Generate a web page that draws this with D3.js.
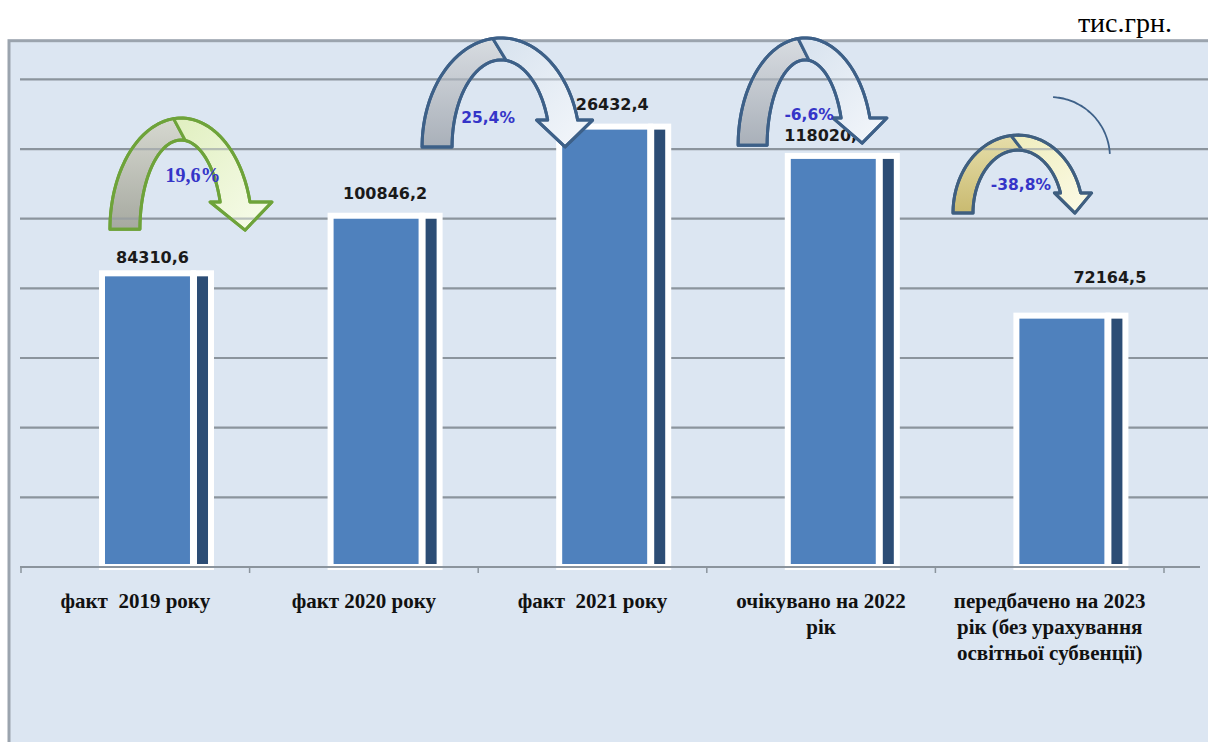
<!DOCTYPE html>
<html><head><meta charset="utf-8">
<script src="https://cdn.jsdelivr.net/npm/d3@7"></script>
<style>html,body{margin:0;padding:0;background:#fff;} svg{display:block}</style>
</head><body><div id="chart"></div>
<script>
// ---------------- data ----------------
const categories = [
  "факт  2019 року",
  "факт 2020 року",
  "факт  2021 року",
  "очікувано на 2022\nрік",
  "передбачено на 2023\nрік (без урахування\nосвітньої субвенції)"
];
const factValues   = [84310.6, 100846.2, 126432.4, 118020.0, 72164.5];
const shadowValues = [84310.6, 100846.2, 126432.4, 118020.0, 72164.5];
const gridTicks    = [20000, 40000, 60000, 80000, 100000, 120000, 140000];
const changeLabels = ["19,6%", "25,4%", "-6,6%", "-38,8%"];
const unitLabel    = "тис.грн.";

// ---------------- layout ----------------
const W = 1208, H = 742;
const SERIF = "'Liberation Serif', 'Times New Roman', 'DejaVu Serif', serif";
const SANS = "'DejaVu Sans', Verdana, sans-serif";
const plot = {left: 21, right: 1164, top: 40.7, bottom: 567};
const yMax = 151100;
const labelDx = [-4, 0, -7, -16, 39];
const labelDy = [-10, -17, -17, -15, -33];
const mainBar = {off: 0.3543, w: 0.398};
const darkBar = {off: 0.7568, w: 0.0744};

const svg = d3.select("#chart").append("svg").attr("width", W).attr("height", H);
const x = d3.scaleBand().domain(d3.range(categories.length)).range([plot.left, plot.right]).padding(0);
const bw = x.bandwidth();
const y = d3.scaleLinear().domain([0, yMax]).range([plot.bottom, plot.top]);
const xu = u => plot.left + u * bw;

const defs = svg.append("defs");

// frame
svg.append("rect").attr("x", 9).attr("y", plot.top).attr("width", W).attr("height", H)
  .attr("fill", "#DCE6F2").attr("stroke", "#9BA4AE").attr("stroke-width", 3);

// unit label
svg.append("text").attr("x", 1172).attr("y", 32).attr("text-anchor", "end")
  .style("font-family", SERIF).attr("font-size", 28)
  .attr("fill", "#000").text(unitLabel);

// gridlines
const gridG = svg.append("g");
function drawGrid(g, opacity) {
  g.selectAll("line.grid").data(gridTicks).join("line").attr("class", "grid")
    .attr("x1", 20).attr("x2", W).attr("y1", d => y(d)).attr("y2", d => y(d))
    .attr("stroke", "#8B949D").attr("stroke-width", 2.2).attr("opacity", opacity);
}
drawGrid(gridG, 1);

// bars
const barG = svg.append("g");
barG.selectAll("rect.main").data(factValues).join("rect").attr("class", "main")
  .attr("x", (d, i) => x(i) + mainBar.off * bw).attr("width", mainBar.w * bw)
  .attr("y", d => y(d)).attr("height", d => y(0) - y(d))
  .attr("fill", "#4F81BD").attr("stroke", "#fff").attr("stroke-width", 6);
barG.selectAll("rect.dark").data(shadowValues).join("rect").attr("class", "dark")
  .attr("x", (d, i) => x(i) + darkBar.off * bw).attr("width", darkBar.w * bw)
  .attr("y", d => y(d)).attr("height", d => y(0) - y(d))
  .attr("fill", "#2C4D75").attr("stroke", "#fff").attr("stroke-width", 6);

// axis
const axisG = svg.append("g");
axisG.append("line").attr("x1", 20).attr("x2", 1200).attr("y1", y(0)).attr("y2", y(0))
  .attr("stroke", "#8B949D").attr("stroke-width", 2.2);
axisG.selectAll("line.tick").data(d3.range(categories.length + 1)).join("line").attr("class", "tick")
  .attr("x1", i => plot.left + i * bw).attr("x2", i => plot.left + i * bw)
  .attr("y1", y(0)).attr("y2", y(0) + 6).attr("stroke", "#8B949D").attr("stroke-width", 1.5);

// category labels
const catG = svg.append("g");
categories.forEach((c, i) => {
  const t = catG.append("text").attr("text-anchor", "middle")
    .style("font-family", SERIF).attr("font-weight", "bold")
    .attr("font-size", 21).attr("fill", "#111").style("white-space", "pre");
  c.split("\n").forEach((line, k) => {
    t.append("tspan").attr("x", x(i) + bw / 2).attr("y", 608 + k * 26).text(line);
  });
});

// value labels
const fmt = v => d3.format(".1f")(v).replace(".", ",");
svg.append("g").selectAll("text").data(factValues).join("text")
  .attr("x", (d, i) => x(i) + (mainBar.off * bw + (darkBar.off + darkBar.w) * bw) / 2 + labelDx[i])
  .attr("y", (d, i) => y(d) + labelDy[i])
  .attr("text-anchor", "middle").style("font-family", SANS)
  .attr("font-weight", "bold").attr("font-size", 16).attr("fill", "#1A1A1A").text(fmt);

// ---------------- curved change arrows ----------------
const themes = {
  green:  {stroke: "#6EA33A", back: ["#A6A9A0", "#D6D8D0"], front: ["#E0EFBF", "#F8FCEC"]},
  blue:   {stroke: "#3D6088", back: ["#A9B0B9", "#D8DCE1"], front: ["#D7E2EE", "#F4F7FB"]},
  yellow: {stroke: "#3F5F80", back: ["#C9BA70", "#E6DEAA"], front: ["#EFEDBC", "#FCFBE8"]}
};
const arrowLayout = [
  {u: 0.700, rx: 0.311,  foot: 97000,  top: 128900, head: 104800, tip: 96700,  t: 30, tv: 22, tipDx: 64, extL: 10, extR: 22, lx: 12, ly: -47, theme: "green",  serif: true},
  {u: 2.100, rx: 0.3456, foot: 120600, top: 151900, head: 128300, tip: 120600, t: 30, tv: 22, tipDx: 64, extL: 11, extR: 15, lx: -13, ly: -24, theme: "blue"},
  {u: 3.430, rx: 0.293,  foot: 121100, top: 151900, head: 128900, tip: 121700, t: 29, tv: 22, tipDx: 57, extL: 8,  extR: 17, lx: 4, ly: -25, theme: "blue"},
  {u: 4.361, rx: 0.284,  foot: 101600, top: 124000, head: 107400, tip: 101600, t: 20, tv: 15, tipDx: 57, extL: 6,  extR: 11, lx: 3, ly: -23, theme: "yellow"}
];
Object.entries(themes).forEach(([k, th]) => {
  const gb = defs.append("linearGradient").attr("id", "back-" + k).attr("x1", 0).attr("y1", 1).attr("x2", 0).attr("y2", 0);
  gb.append("stop").attr("offset", 0).attr("stop-color", th.back[0]);
  gb.append("stop").attr("offset", 1).attr("stop-color", th.back[1]);
  const gf = defs.append("linearGradient").attr("id", "front-" + k).attr("x1", 0).attr("y1", 0).attr("x2", 1).attr("y2", 1);
  gf.append("stop").attr("offset", 0).attr("stop-color", th.front[0]);
  gf.append("stop").attr("offset", 1).attr("stop-color", th.front[1]);
});

const rad = a => a * Math.PI / 180;
function arrowGeom(a) {
  const cx = xu(a.u), fy = y(a.foot), hy = y(a.head);
  const rx = a.rx * bw, ry = fy - y(a.top);
  const rxi = rx - a.t, ryi = ry - a.tv;
  const P = (r1, r2, phi) => [cx + r1 * Math.cos(phi), fy - r2 * Math.sin(phi)];
  const arc = (r1, r2, p0, p1, n = 40) => d3.range(n + 1).map(k => P(r1, r2, p0 + (p1 - p0) * k / n));
  const eO = Math.asin((fy - hy) / ry), eI = Math.asin((fy - hy) / ryi);
  const sO = rad(96), sI = rad(84);
  const oEnd = P(rx, ry, eO), iEnd = P(rxi, ryi, eI);
  const head = [[oEnd[0] + a.extR, hy], [cx + a.tipDx, y(a.tip)], [iEnd[0] - a.extL, hy]];
  const back = arc(rx, ry, Math.PI, sO).concat(arc(rxi, ryi, sI, Math.PI));
  const front = arc(rx, ry, sO, eO).concat(head, arc(rxi, ryi, eI, sI));
  const full = arc(rx, ry, Math.PI, eO).concat(head, arc(rxi, ryi, eI, Math.PI));
  return {cx, fy, back, front, full};
}
const line = d3.line().curve(d3.curveLinear);
const clip = defs.append("clipPath").attr("id", "arrowClip");
const arrowG = svg.append("g");
arrowLayout.forEach(a => {
  const g = arrowGeom(a), th = themes[a.theme];
  clip.append("path").attr("d", line(g.full) + "Z");
  arrowG.append("path").attr("d", line(g.back) + "Z").attr("fill", `url(#back-${a.theme})`)
    .attr("stroke", th.stroke).attr("stroke-width", 3).attr("stroke-linejoin", "round");
  arrowG.append("path").attr("d", line(g.front) + "Z").attr("fill", `url(#front-${a.theme})`)
    .attr("stroke", th.stroke).attr("stroke-width", 3).attr("stroke-linejoin", "round");
});
// gridlines faintly visible through the arrows
const overG = svg.append("g").attr("clip-path", "url(#arrowClip)");
drawGrid(overG, 0.55);
// outlines on top
const outlineG = svg.append("g");
arrowLayout.forEach(a => {
  const g = arrowGeom(a), th = themes[a.theme];
  outlineG.append("path").attr("d", line(g.full) + "Z").attr("fill", "none")
    .attr("stroke", th.stroke).attr("stroke-width", 3).attr("stroke-linejoin", "round");
});

// thin decorative arc
const arcLayout = {u: 4.501, cy: 117700, r: 0.2625, ry: 17225, a0: 87, a1: 3};
{
  const cx = xu(arcLayout.u), cy = y(arcLayout.cy), r = arcLayout.r * bw, ryp = y(0) - y(arcLayout.ry);
  const pts = d3.range(31).map(k => {
    const p = rad(arcLayout.a0 + (arcLayout.a1 - arcLayout.a0) * k / 30);
    return [cx + r * Math.cos(p), cy - ryp * Math.sin(p)];
  });
  svg.append("path").attr("d", d3.line().curve(d3.curveBasis)(pts)).attr("fill", "none")
    .attr("stroke", "#3E6189").attr("stroke-width", 1.8);
}

// change labels
svg.append("g").selectAll("text").data(arrowLayout).join("text")
  .attr("x", a => xu(a.u) + a.lx).attr("y", a => y(a.foot) + a.ly)
  .attr("text-anchor", "middle")
  .style("font-family", a => a.serif ? SERIF : SANS)
  .attr("font-size", a => a.serif ? 20 : 15.5).attr("font-weight", "bold")
  .attr("fill", "#3535C8").text((a, i) => changeLabels[i]);
</script></body></html>
